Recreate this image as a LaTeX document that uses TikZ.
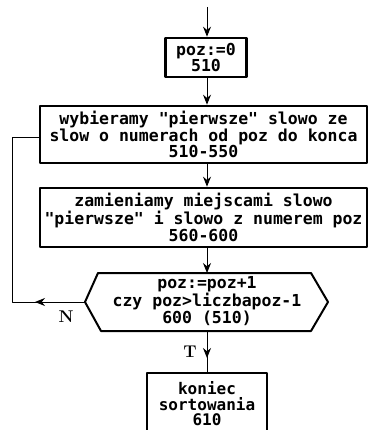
\documentclass[tikz,border=0pt]{standalone}
\usepackage{fontspec}
\newfontfamily\pixfont{DejaVu Sans Mono}
\usetikzlibrary{arrows.meta}

\begin{document}
\begin{tikzpicture}[
        x = 1pt, y = -1pt,
        line join=round,
        blok/.style = {draw, line width=2.6pt, align=center, inner sep=0pt, font=\pixfont\bfseries\fontsize{16.5}{14.5}\selectfont},
        tekst/.style = {align=center, inner sep=0pt, font=\pixfont\bfseries\fontsize{16.5}{14.5}\selectfont},
        strzalka/.style = {-{Stealth[length=10pt, width=8pt]}, line width=1pt},
        etykieta/.style = {font=\bfseries\fontsize{17}{17}\selectfont}
    ]

    \useasboundingbox (0,0) rectangle (369,430);
    \clip (0,0) rectangle (369,430);

    \coordinate (start) at (207,7);

    \node[blok, minimum width=81pt, minimum height=39pt] (b1) at (206,57.5) {poz:=0\\510};
    \node[blok, minimum width=327pt, minimum height=57pt] (b2) at (203.5,134.5)
        {wybieramy "pierwsze" slowo ze\\slow o numerach od poz do konca\\510-550};
    \node[blok, minimum width=327pt, minimum height=59pt] (b3) at (203.5,217.5)
        {zamieniamy miejscami slowo\\"pierwsze" i slowo z numerem poz\\560-600};
    \node[blok, minimum width=120pt, minimum height=62pt, font=\pixfont\bfseries\fontsize{16}{15.5}\selectfont] (b4) at (207,404)
        {koniec\\sortowania\\610};

    % szesciokat z warunkiem petli
    \coordinate (hL) at (85,302);
    \coordinate (hR) at (328,302);
    \coordinate (hT) at (207,273);
    \coordinate (hB) at (207,331);
    \draw[line width=2pt] (hL) -- (98,273) -- (311,273) -- (hR) -- (311,331) -- (101,331) -- cycle;
    \node[tekst] (hex) at (207,301) {poz:=poz+1\\czy poz>liczbapoz-1\\600 (510)};

    \draw[strzalka] (start) -- (start |- b1.north);
    \draw[strzalka] (start |- b1.south) -- (start |- b2.north);
    \draw[strzalka] (start |- b2.south) -- (start |- b3.north);
    \draw[strzalka] (hT |- b3.south) -- (hT);

    \coordinate (lp) at (12,302);
    \coordinate (nA) at (35,302);
    \draw[line width=1pt] (hL) -- (lp) |- ([yshift=-3.5pt]b2.west);
    \draw[strzalka] (hL) -- (nA);
    \node[etykieta] (lN) at (66,317) {N};

    \coordinate (tA) at (207,358);
    \draw[line width=1pt] (hB) -- (b4.north);
    \draw[strzalka] (hB) -- (tA);
    \node[etykieta] (lT) at (190,352) {T};

\end{tikzpicture}
\end{document}
